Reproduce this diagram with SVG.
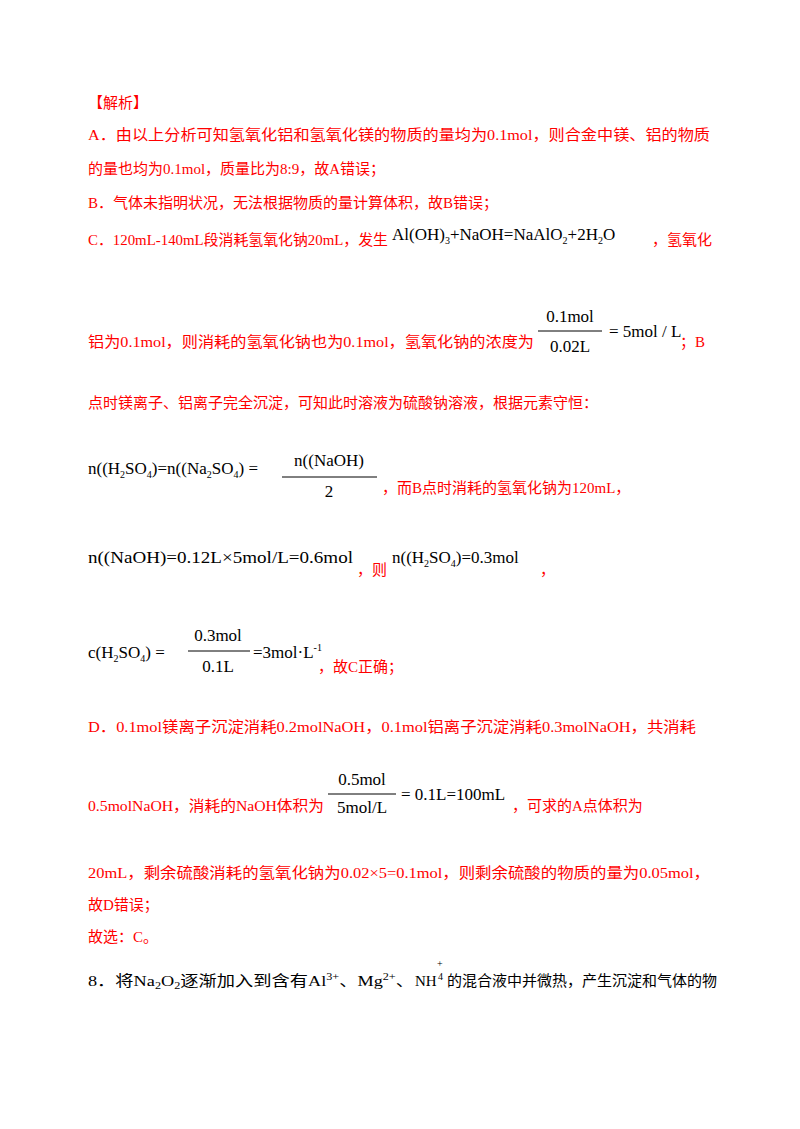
<svg xmlns="http://www.w3.org/2000/svg" width="800" height="1129" viewBox="0 0 800 1129">
<style>
.r{fill:#ff0000;font-family:"Liberation Serif","Noto Sans CJK SC",serif;font-size:15px}
.k{fill:#000;font-family:"Liberation Serif","Noto Sans CJK SC",serif;font-size:15px}
.f{fill:#000;font-family:"Liberation Serif",serif;font-size:17px}
.s{font-size:10px}
</style>
<rect width="800" height="1129" fill="#fff"/>
<text class="r" x="88" y="108">【解析】</text>
<text class="r" x="88" y="140" textLength="622" lengthAdjust="spacingAndGlyphs">A．由以上分析可知氢氧化铝和氢氧化镁的物质的量均为0.1mol，则合金中镁、铝的物质</text>
<text class="r" x="88" y="174">的量也均为0.1mol，质量比为8:9，故A错误；</text>
<text class="r" x="88" y="208">B．气体未指明状况，无法根据物质的量计算体积，故B错误；</text>
<text class="r" x="88" y="245" textLength="300" lengthAdjust="spacingAndGlyphs">C．120mL-140mL段消耗氢氧化钠20mL，发生</text>
<text class="f" x="392" y="240">Al(OH)<tspan class="s" dy="4">3</tspan><tspan dy="-4">+NaOH=NaAlO</tspan><tspan class="s" dy="4">2</tspan><tspan dy="-4">+2H</tspan><tspan class="s" dy="4">2</tspan><tspan dy="-4">O</tspan></text>
<text class="r" x="652" y="245">，氢氧化</text>
<text class="f" x="570" y="322" text-anchor="middle">0.1mol</text>
<line x1="538" y1="331" x2="602" y2="331" stroke="#000" stroke-width="1"/>
<text class="f" x="570" y="352" text-anchor="middle">0.02L</text>
<text class="f" x="609" y="337">= 5mol / L</text>
<text class="r" x="88" y="347" textLength="446" lengthAdjust="spacingAndGlyphs">铝为0.1mol，则消耗的氢氧化钠也为0.1mol，氢氧化钠的浓度为</text>
<text class="r" x="680" y="347">；B</text>
<text class="r" x="88" y="408">点时镁离子、铝离子完全沉淀，可知此时溶液为硫酸钠溶液，根据元素守恒：</text>
<text class="f" x="88" y="474">n((H<tspan class="s" dy="4">2</tspan><tspan dy="-4">SO</tspan><tspan class="s" dy="4">4</tspan><tspan dy="-4">)=n((Na</tspan><tspan class="s" dy="4">2</tspan><tspan dy="-4">SO</tspan><tspan class="s" dy="4">4</tspan><tspan dy="-4">) =</tspan></text>
<text class="f" x="329" y="466" text-anchor="middle">n((NaOH)</text>
<line x1="282" y1="477" x2="377" y2="477" stroke="#000" stroke-width="1"/>
<text class="f" x="329" y="497" text-anchor="middle">2</text>
<text class="r" x="382" y="493">，而B点时消耗的氢氧化钠为120mL，</text>
<text class="f" x="88" y="563" textLength="265" lengthAdjust="spacingAndGlyphs">n((NaOH)=0.12L×5mol/L=0.6mol</text>
<text class="r" x="357" y="575">，则</text>
<text class="f" x="392" y="563">n((H<tspan class="s" dy="4">2</tspan><tspan dy="-4">SO</tspan><tspan class="s" dy="4">4</tspan><tspan dy="-4">)=0.3mol</tspan></text>
<text class="r" x="540" y="575">，</text>
<text class="f" x="88" y="658">c(H<tspan class="s" dy="4">2</tspan><tspan dy="-4">SO</tspan><tspan class="s" dy="4">4</tspan><tspan dy="-4">) =</tspan></text>
<text class="f" x="218" y="641" text-anchor="middle">0.3mol</text>
<line x1="188" y1="651" x2="250" y2="651" stroke="#000" stroke-width="1"/>
<text class="f" x="218" y="672" text-anchor="middle">0.1L</text>
<text class="f" x="253" y="658">=3mol·L<tspan class="s" dy="-7">-1</tspan></text>
<text class="r" x="318" y="672">，故C正确；</text>
<text class="r" x="88" y="732" textLength="608" lengthAdjust="spacingAndGlyphs">D．0.1mol镁离子沉淀消耗0.2molNaOH，0.1mol铝离子沉淀消耗0.3molNaOH，共消耗</text>
<text class="f" x="362" y="785" text-anchor="middle">0.5mol</text>
<line x1="328" y1="794" x2="396" y2="794" stroke="#000" stroke-width="1"/>
<text class="f" x="362" y="813" text-anchor="middle">5mol/L</text>
<text class="f" x="401" y="800">= 0.1L=100mL</text>
<text class="r" x="88" y="811" textLength="236" lengthAdjust="spacingAndGlyphs">0.5molNaOH，消耗的NaOH体积为</text>
<text class="r" x="512" y="811">，可求的A点体积为</text>
<text class="r" x="88" y="878" textLength="622" lengthAdjust="spacingAndGlyphs">20mL，剩余硫酸消耗的氢氧化钠为0.02×5=0.1mol，则剩余硫酸的物质的量为0.05mol，</text>
<text class="r" x="88" y="910">故D错误；</text>
<text class="r" x="88" y="942">故选：C。</text>
<text class="k" x="88" y="986" textLength="326" lengthAdjust="spacingAndGlyphs">8．将Na<tspan class="s" dy="3">2</tspan><tspan dy="-3">O</tspan><tspan class="s" dy="3">2</tspan><tspan dy="-3">逐渐加入到含有Al</tspan><tspan class="s" dy="-6">3+</tspan><tspan dy="6">、Mg</tspan><tspan class="s" dy="-6">2+</tspan><tspan dy="6">、</tspan></text>
<text class="k" x="415" y="986">NH</text>
<text class="k s" x="437" y="967">+</text>
<text class="k s" x="438" y="980">4</text>
<text class="k" x="447" y="986">的混合液中并微热，产生沉淀和气体的物</text>
</svg>
